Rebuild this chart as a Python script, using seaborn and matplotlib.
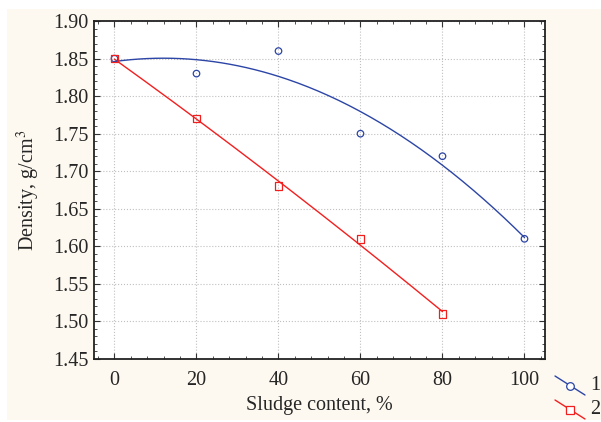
import numpy as np
import pandas as pd
import matplotlib.pyplot as plt
import seaborn as sns
from matplotlib.lines import Line2D
from matplotlib.patches import Rectangle
from matplotlib.ticker import MultipleLocator

# data
sludge_1 = [0, 20, 40, 60, 80, 100]
density_1 = [1.85, 1.83, 1.86, 1.75, 1.72, 1.61]
sludge_2 = [0, 20, 40, 60, 80]
density_2 = [1.85, 1.77, 1.68, 1.61, 1.51]

blue = "#2c45a6"
red = "#f21f1f"

sns.set_style("ticks")
plt.rcParams["font.family"] = ["Liberation Serif", "DejaVu Serif"]
plt.rcParams["mathtext.fontset"] = "stix"

fig = plt.figure(figsize=(6.01, 4.22), dpi=100, facecolor="white")
fig.add_artist(Rectangle((0.0116, 0.005), 0.99, 0.974, transform=fig.transFigure,
                         facecolor="#fdf9f0", edgecolor="none", zorder=-10))
ax = fig.add_axes([0.1564, 0.1493, 0.7504, 0.8009])
ax.set_facecolor("white")

# quadratic fits like the original
for xs, ys, col in [(sludge_1, density_1, blue), (sludge_2, density_2, red)]:
    coef = np.polyfit(xs, ys, 2)
    xx = np.linspace(min(xs), max(xs), 200)
    fit = pd.DataFrame({"x": xx, "y": np.polyval(coef, xx)})
    sns.lineplot(data=fit, x="x", y="y", color=col, lw=1.0, ax=ax)

df1 = pd.DataFrame({"x": sludge_1, "y": density_1})
df2 = pd.DataFrame({"x": sludge_2, "y": density_2})
sns.scatterplot(data=df1, x="x", y="y", marker="o", s=22, facecolor="none",
                edgecolor=blue, linewidth=0.9, ax=ax, zorder=3)
sns.scatterplot(data=df2, x="x", y="y", marker="s", s=30, facecolor="none",
                edgecolor=red, linewidth=0.9, ax=ax, zorder=4)

ax.set_xlim(-5, 105)
ax.set_ylim(1.45, 1.90)
ax.xaxis.set_major_locator(MultipleLocator(20))
ax.xaxis.set_minor_locator(MultipleLocator(4))
ax.yaxis.set_major_locator(MultipleLocator(0.05))
ax.yaxis.set_minor_locator(MultipleLocator(0.01))
ax.yaxis.set_major_formatter(plt.FormatStrFormatter("%.2f"))
ax.tick_params(which="both", direction="in", top=True, right=True, labelsize=14.5,
               color="#333333")
ax.tick_params(which="major", length=4, width=0.8)
ax.tick_params(which="minor", length=2, width=0.6)
ax.tick_params(axis="x", which="major", pad=9)
ax.tick_params(axis="y", which="major", pad=4)
ax.grid(True, which="major", linestyle=":", color="#c0c0c0", lw=0.8)
for sp in ax.spines.values():
    sp.set_linewidth(1.3)
    sp.set_color("#222222")

ax.set_xlabel("Sludge content, %", fontsize=14.5, labelpad=4)
ax.set_ylabel("Density, g/cm$^3$", fontsize=14.5, labelpad=8)

# legend in the lower right corner, at the edge
for y0, col, mk, lab in [(376, blue, "o", "1"), (400, red, "s", "2")]:
    x1, x2 = 555 / 601, 585 / 601
    ya, yb = 1 - y0 / 422, 1 - (y0 + 19) / 422
    fig.add_artist(Line2D([x1, x2], [ya, yb], transform=fig.transFigure, color=col, lw=1.0))
    fig.add_artist(Line2D([(x1 + x2) / 2], [(ya + yb) / 2], transform=fig.transFigure,
                          marker=mk, ms=5.5 if mk == "o" else 6, mfc="white", mec=col, mew=0.9))
    fig.text(590 / 601, (ya + yb) / 2, lab, fontsize=14.5, va="center", ha="left")

fig.savefig("out.png", dpi=100, facecolor=fig.get_facecolor())
